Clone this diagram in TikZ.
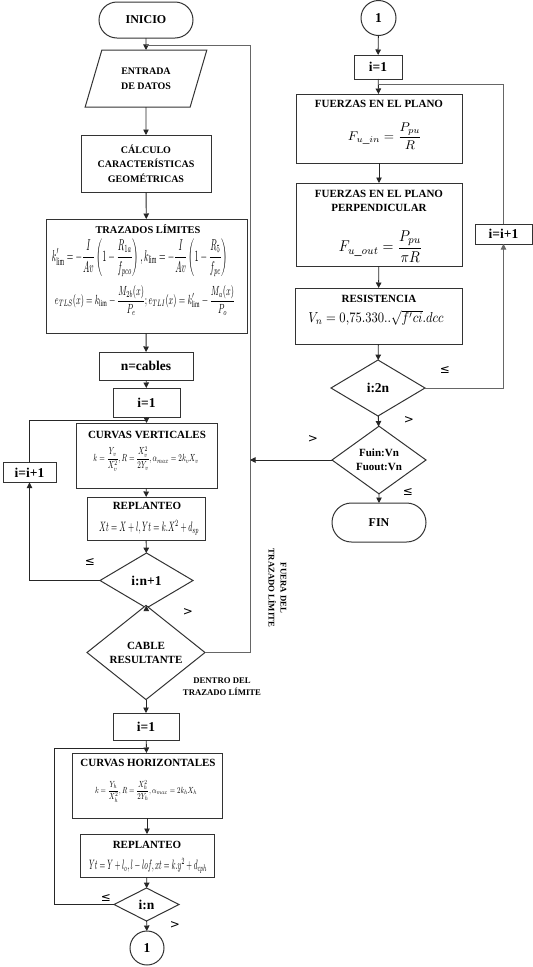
\documentclass[tikz,border=0pt]{standalone}
\usepackage{fontspec}
\usepackage{graphicx}
\setmainfont{Liberation Serif}
\newfontfamily\symfnt{DejaVu Sans}
\usetikzlibrary{arrows.meta,shapes.geometric,shapes.misc}
\begin{document}
\begin{tikzpicture}[x=1pt,y=-1pt,
 ln/.style={draw=black!85, line width=0.9pt},
 arr/.style={ln, -{Triangle[length=5.5pt,width=5.5pt]}},
 lp/.style={draw=black!60, line width=0.9pt},
 lparr/.style={lp, -{Triangle[length=5.5pt,width=5.5pt]}},
 bx/.style={draw=black!80, line width=1pt, fill=white, inner sep=0pt, outer sep=0pt},
 hd/.style={font=\bfseries\fontsize{11}{14}\selectfont, inner sep=0pt, align=center},
 hds/.style={font=\bfseries\fontsize{10}{14.5}\selectfont, inner sep=0pt, align=center},
 lbl/.style={font=\bfseries\fontsize{13.5}{15}\selectfont, inner sep=0pt, align=center},
 sym/.style={font=\symfnt\fontsize{12}{12}\selectfont, inner sep=0pt},
 note/.style={font=\bfseries\fontsize{8.7}{12}\selectfont, inner sep=0pt, align=center},
 fm/.style={inner sep=0pt}
]
\useasboundingbox[fill=white] (0,0) rectangle (533,967);

% ---------------- left column ----------------
\node[bx, rounded rectangle, minimum width=94pt, minimum height=36pt, font=\bfseries\fontsize{12}{14}\selectfont] (start) at (146,20) {INICIO};
\node[bx, trapezium, trapezium left angle=66, trapezium right angle=114, trapezium stretches=true, minimum width=122pt, minimum height=57pt, hds] (datos) at (146,78.5) {ENTRADA\\DE DATOS};
\node[bx, minimum width=130pt, minimum height=57pt, hds] (calc) at (146,163.5) {CÁLCULO\\CARACTERÍSTICAS\\GEOMÉTRICAS};

\node[bx, minimum width=201pt, minimum height=114pt] (trz) at (146.5,276) {};
\node[hd, font=\bfseries\fontsize{10.4}{12}\selectfont] (trzh) at (148,229) {TRAZADOS LÍMITES};
\node[fm] (trzf1) at (140,257.5) {\resizebox*{176pt}{38pt}{$\displaystyle k'_{\mathrm{lim}}=-\frac{I}{Av}\left(1-\frac{R_{1a}}{f_{pco}}\right),k_{\mathrm{lim}}=-\frac{I}{Av}\left(1-\frac{R_{5}}{f_{pc}}\right)$}};
\node[fm] (trzf2) at (145,300.5) {\resizebox*{180pt}{30pt}{$\displaystyle e_{TLS}(x)=k_{\mathrm{lim}}-\frac{M_{2b}(x)}{P_e};e_{TLI}(x)=k'_{\mathrm{lim}}-\frac{M_a(x)}{P_o}$}};

\node[bx, minimum width=94pt, minimum height=28pt, lbl] (ncab) at (146,366) {n=cables};
\node[bx, minimum width=67pt, minimum height=29pt, lbl] (i1) at (146.5,402.5) {i=1};

\node[bx, minimum width=141pt, minimum height=65pt] (cv) at (146.5,455.5) {};
\node[hd] (cvh) at (147,435) {CURVAS VERTICALES};
\node[fm] (cvf) at (146,459) {\resizebox*{105pt}{25pt}{$\displaystyle k=\frac{Y_v}{X_v^{2}},R=\frac{X_v^{2}}{2Y_v},\alpha_{max}=2k_vX_v$}};

\node[bx, minimum width=53pt, minimum height=20pt, lbl] (iinc) at (29.5,472.5) {i=i+1};

\node[bx, minimum width=118pt, minimum height=43pt] (rep1) at (146,518.5) {};
\node[hd] (rep1h) at (147,506) {REPLANTEO};
\node[fm] (rep1f) at (149,527.5) {\resizebox*{100pt}{15pt}{$Xt=X+l,Yt=k.X^{2}+d_{sp}$}};

\node[bx, diamond, minimum width=93pt, minimum height=55pt, lbl] (dn1) at (146.5,580.5) {i:n+1};
\node[bx, diamond, minimum width=118pt, minimum height=65pt, hd] (cable) at (146,652.5) {CABLE\\RESULTANTE};

\node[bx, minimum width=66pt, minimum height=27pt, lbl] (i1b) at (146,726.5) {i=1};

\node[bx, minimum width=150pt, minimum height=65pt] (ch) at (147,785.5) {};
\node[hd] (chh) at (148,763) {CURVAS HORIZONTALES};
\node[fm] (chf) at (146,791) {\resizebox*{102pt}{22pt}{$\displaystyle k=\frac{Y_h}{X_h^{2}},R=\frac{X_h^{2}}{2Y_h},\alpha_{max}=2k_hX_h$}};

\node[bx, minimum width=134pt, minimum height=43pt] (rep2) at (147,855.5) {};
\node[hd] (rep2h) at (147,845) {REPLANTEO};
\node[fm] (rep2f) at (148,866) {\resizebox*{118pt}{15pt}{$Yt=Y+l_{o},l-lof,xt=k.y^{2}+d_{cph}$}};

\node[bx, diamond, minimum width=65pt, minimum height=33pt, lbl] (dn) at (146.5,904.5) {i:n};
\node[bx, circle, minimum size=34pt, lbl] (c1b) at (147,948) {1};

% ---------------- right column ----------------
\node[bx, circle, minimum size=35pt, lbl] (c1r) at (378.5,18) {1};
\node[bx, minimum width=48pt, minimum height=24pt, lbl] (i1r) at (378,67) {i=1};

\node[bx, minimum width=166pt, minimum height=69pt] (fp) at (379,128.5) {};
\node[hd] (fph) at (379,104) {FUERZAS EN EL PLANO};
\node[fm] (fpf) at (385,136) {\resizebox*{74pt}{26pt}{$\displaystyle F_{u\_in}=\frac{P_{pu}}{R}$}};

\node[bx, minimum width=166pt, minimum height=83pt] (fpp) at (379,224.5) {};
\node[hd] (fpph) at (379,200.5) {FUERZAS EN EL PLANO\\PERPENDICULAR};
\node[fm] (fppf) at (381,246.5) {\resizebox*{84pt}{32pt}{$\displaystyle F_{u\_out}=\frac{P_{pu}}{\pi R}$}};

\node[bx, minimum width=167pt, minimum height=56pt] (res) at (378.5,316) {};
\node[hd] (resh) at (379,299) {RESISTENCIA};
\node[fm] (resf) at (376,318) {\resizebox*{135pt}{15pt}{$V_n=0{,}75.330..\sqrt{f'ci}.dcc$}};

\node[bx, diamond, minimum width=94pt, minimum height=56pt, lbl] (d2n) at (378,388) {i:2n};
\node[bx, diamond, minimum width=94pt, minimum height=56pt, hd] (dF) at (379,460) {Fuin:Vn\\Fuout:Vn};
\node[bx, rounded rectangle, minimum width=94pt, minimum height=39pt, font=\bfseries\fontsize{12}{14}\selectfont] (fin) at (379,522.5) {FIN};

\node[bx, minimum width=57pt, minimum height=20pt, lbl] (iincR) at (503.5,234) {i=i+1};

% ---------------- junction coordinates ----------------
\coordinate (jA) at (146,45);
\coordinate (jR) at (250,45);
\coordinate (jB) at (146.5,420);
\coordinate (jL) at (54,748);
\coordinate (jC) at (378,84);

% ---------------- connectors ----------------
\draw[arr] (start) -- (datos);
\draw[arr] (datos) -- (calc);
\draw[arr] (calc) -- (trz);
\draw[arr] (trz) -- (ncab);
\draw[arr] (ncab) -- (i1);
\draw[arr] (i1) -- (cv);
\draw[arr] (cv) -- (rep1);
\draw[arr] (rep1) -- (dn1);
\draw[arr] (dn1) -- (cable);
\draw[arr] (cable) -- (i1b);
\draw[arr] (i1b) -- (ch);
\draw[arr] (ch) -- (rep2);
\draw[arr] (rep2) -- (dn);
\draw[arr] (dn) -- (c1b);

\draw[arr] (dn1.west) -| (iinc.south);
\draw[ln] (iinc.north) |- (jB);
\draw[lp] (cable.east) -| (jR) -- (jA);
\draw[ln] (dn.west) -| (jL) -- (jL -| i1b.south);

\draw[arr] (c1r) -- (i1r);
\draw[arr] (i1r) -- (fp);
\draw[arr] (fp) -- (fpp);
\draw[arr] (fpp) -- (res);
\draw[arr] (res) -- (d2n);
\draw[arr] (d2n) -- (dF);
\draw[arr] (dF) -- (fin);
\draw[lparr] (d2n.east) -| (iincR.south);
\draw[lp] (iincR.north) |- (jC);
\draw[arr] (dF.west) -- (dF.west -| jR);

% ---------------- labels ----------------
\node[sym] (le1) at (90,562) {≤};
\node[sym] (gt1) at (188,612) {>};
\node[sym] (le2) at (106,898) {≤};
\node[sym] (gt2) at (175,925) {>};
\node[sym] (le3) at (445,370) {≤};
\node[sym] (gt3) at (409,420) {>};
\node[sym] (gt4) at (313,439) {>};
\node[sym] (le4) at (408,492) {≤};
\node[note] (dentro) at (222,687) {DENTRO DEL\\TRAZADO LÍMITE};
\node[note, rotate=-90] (fuera) at (277.5,588) {FUERA DEL\\TRAZADO LÍMITE};
\end{tikzpicture}
\end{document}
